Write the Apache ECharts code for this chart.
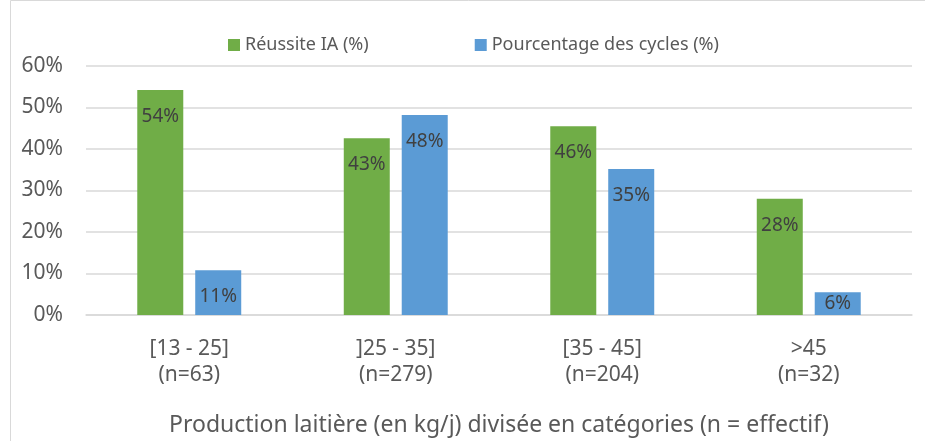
<!DOCTYPE html>
<html>
<head>
<meta charset="utf-8">
<script src="https://cdn.jsdelivr.net/npm/echarts@6/dist/echarts.min.js"></script>
<style>
  html, body { margin: 0; padding: 0; background: #fff; }
  #chart { width: 925px; height: 441px; }
</style>
</head>
<body>
<div id="chart"></div>
<script>
// categories de production
var categories = ['[13 - 25]\n(n=63)', ']25 - 35]\n(n=279)', '[35 - 45]\n(n=204)', '>45\n(n=32)'];
// valeurs (%)
var reussiteIA = [54.2, 42.6, 45.5, 28.0];
var pourcentageCycles = [10.8, 48.2, 35.2, 5.5];
var yTicks = [0, 10, 20, 30, 40, 50, 60];

var chart = echarts.init(document.getElementById('chart'));
var font = '"Noto Sans", sans-serif';

function barLabel() {
    return {
        show: true,
        position: 'insideTop',
        distance: 17,
        fontSize: 19,
        fontFamily: font,
        color: '#404040',
        formatter: function(p) { return Math.round(p.value) + '%'; }
    };
}

// barres trop basses : etiquette centree dans la barre (comme Excel)
function toData(values) {
    return values.map(function(v) {
        if (v < 8) {
            return { value: v, label: { position: 'inside', distance: 0 } };
        }
        return v;
    });
}

chart.setOption({
    animation: false,
    textStyle: { fontFamily: font },
    graphic: [{
        type: 'rect',
        shape: { x: 10.5, y: 0.5, width: 930, height: 450 },
        style: { fill: 'none', stroke: '#d9d9d9', lineWidth: 1 }
    }],
    legend: {
        top: 31,
        left: 223,
        itemGap: 106,
        itemWidth: 12,
        itemHeight: 12,
        icon: 'rect',
        textStyle: { fontSize: 18, color: '#595959', fontFamily: font },
        data: ['Réussite IA (%)', 'Pourcentage des cycles (%)']
    },
    grid: { left: 86, right: 13, top: 66, bottom: 126, outerBoundsMode: 'none', containLabel: false },
    xAxis: {
        type: 'category',
        data: categories,
        name: 'Production laitière (en kg/j) divisée en catégories (n = effectif)',
        nameLocation: 'middle',
        nameGap: 99,
        nameTextStyle: { fontSize: 23, color: '#595959', fontFamily: font },
        axisLine: { lineStyle: { color: '#d9d9d9', width: 1.5 } },
        axisTick: { show: false },
        axisLabel: {
            margin: 21,
            fontSize: 21,
            lineHeight: 26,
            color: '#595959',
            fontFamily: font
        }
    },
    yAxis: {
        type: 'value',
        min: yTicks[0],
        max: yTicks[yTicks.length - 1],
        interval: 10,
        axisLabel: {
            fontSize: 21,
            color: '#595959',
            margin: 23,
            fontFamily: font,
            formatter: '{value}%'
        },
        splitLine: { lineStyle: { color: '#d9d9d9', width: 1.5 } },
        axisLine: { show: false },
        axisTick: { show: false }
    },
    series: [{
        name: 'Réussite IA (%)',
        type: 'bar',
        data: toData(reussiteIA),
        barWidth: 46,
        barGap: '26%',
        itemStyle: { color: '#70ad47' },
        label: barLabel()
    }, {
        name: 'Pourcentage des cycles (%)',
        type: 'bar',
        data: toData(pourcentageCycles),
        barWidth: 46,
        itemStyle: { color: '#5b9bd5' },
        label: barLabel()
    }]
});
</script>
</body>
</html>
